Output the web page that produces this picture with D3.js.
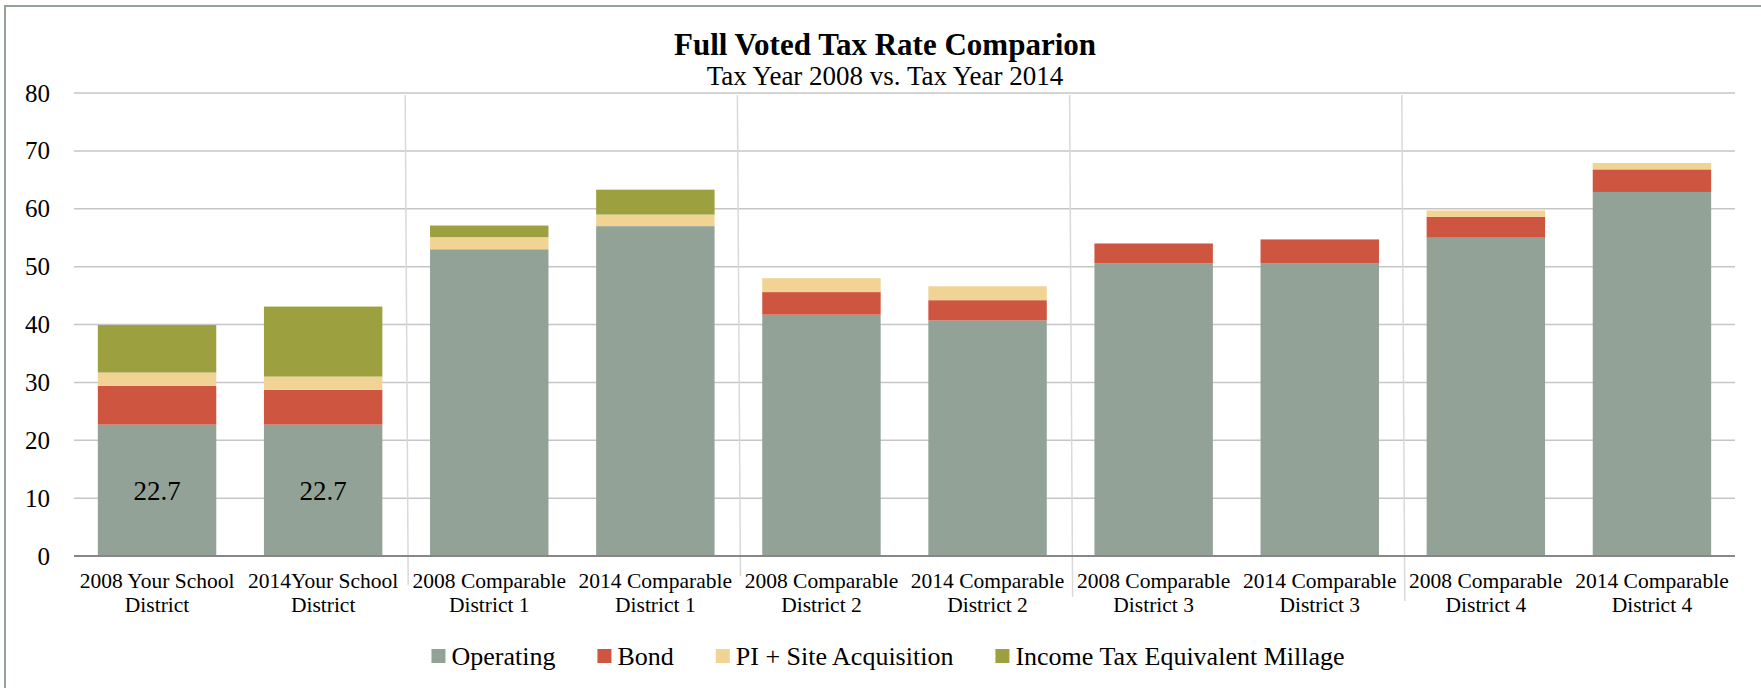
<!DOCTYPE html>
<html>
<head>
<meta charset="utf-8">
<script src="https://cdn.jsdelivr.net/npm/d3@7"></script>
<style>
  html, body { margin: 0; padding: 0; background: #ffffff; }
  svg { display: block; }
  text { font-family: "Liberation Serif", "DejaVu Serif", serif; fill: #000; }
</style>
</head>
<body>
<svg id="chart" width="1761" height="688"></svg>
<script>
// ---- data ----
const categories = [
  "2008 Your School District",
  "2014Your School District",
  "2008 Comparable District 1",
  "2014 Comparable District 1",
  "2008 Comparable District 2",
  "2014 Comparable District 2",
  "2008 Comparable District 3",
  "2014 Comparable District 3",
  "2008 Comparable District 4",
  "2014 Comparable District 4"
];
const seriesNames = ["Operating", "Bond", "PI + Site Acquisition", "Income Tax Equivalent Millage"];
const operating = [22.7, 22.7, 53.0, 57.0, 41.7, 40.7, 50.6, 50.6, 55.0, 62.9];
const bond      = [6.7, 6.0, 0, 0, 3.9, 3.5, 3.4, 4.1, 3.6, 3.9];
const piSite    = [2.3, 2.3, 2.1, 2.0, 2.4, 2.4, 0, 0, 1.1, 1.1];
const income    = [8.2, 12.1, 2.0, 4.3, 0, 0, 0, 0, 0, 0];
const yTicks = [0, 10, 20, 30, 40, 50, 60, 70, 80];
const dataLabels = [22.7, 22.7]; // shown on first two Operating segments
const dividerAfter = [1, 3, 5, 7]; // group separators after these category indices
const colors = ["#93a297", "#ce5540", "#f1d393", "#9da03f"];

// ---- layout ----
const svg = d3.select("#chart");
const W = 1761, H = 688;
const plot = { left: 74, right: 1735, top: 93, bottom: 556 };
const centerX = 885;

const table = categories.map((c, i) => ({
  cat: c,
  "Operating": operating[i],
  "Bond": bond[i],
  "PI + Site Acquisition": piSite[i],
  "Income Tax Equivalent Millage": income[i]
}));
const stacked = d3.stack().keys(seriesNames)(table);

const x = d3.scaleBand().domain(categories)
  .range([plot.left, plot.right]).paddingInner(0.287).paddingOuter(0.1435);
const y = d3.scaleLinear().domain([0, 80]).range([plot.bottom, plot.top]);
const color = d3.scaleOrdinal().domain(seriesNames).range(colors);

// border (left + top visible)
svg.append("path")
  .attr("d", `M5,${H} L5,6 L${W},6`)
  .attr("fill", "none").attr("stroke", "#93a297").attr("stroke-width", 2);

// title
svg.append("text").attr("x", centerX).attr("y", 55)
  .attr("text-anchor", "middle").attr("font-size", 31).attr("font-weight", "bold")
  .text("Full Voted Tax Rate Comparion");
svg.append("text").attr("x", centerX).attr("y", 85)
  .attr("text-anchor", "middle").attr("font-size", 27)
  .text("Tax Year 2008 vs. Tax Year 2014");

// gridlines
svg.append("g").selectAll("line").data(yTicks.filter(t => t > 0)).join("line")
  .attr("x1", plot.left).attr("x2", plot.right)
  .attr("y1", d => y(d)).attr("y2", d => y(d))
  .attr("stroke", "#c6c6c6").attr("stroke-width", 1.5);

// y axis labels
const yAxis = d3.axisLeft(y).tickValues(yTicks).tickSize(0).tickPadding(0);
const gy = svg.append("g").attr("transform", `translate(50,0)`).call(yAxis);
gy.select(".domain").remove();
gy.selectAll("text").attr("font-size", 25)
  .style("font-family", '"Liberation Serif", "DejaVu Serif", serif').attr("fill", "#000");

// group separator lines (drawn decoratively)
const step = x.step();
svg.append("g").selectAll("line").data(dividerAfter).join("line")
  .attr("x1", d => plot.left + (d + 1) * step - 1)
  .attr("x2", d => plot.left + (d + 1) * step + 2)
  .attr("y1", plot.top + 2)
  .attr("y2", (d, i) => plot.bottom + [29, 20, 41, 45][i])
  .attr("stroke", "#d9d9d9").attr("stroke-width", 1.5);

// bars
svg.append("g").selectAll("g").data(stacked).join("g")
  .attr("fill", d => color(d.key))
  .selectAll("rect").data(d => d).join("rect")
  .attr("x", d => x(d.data.cat))
  .attr("width", x.bandwidth())
  .attr("y", d => y(d[1]))
  .attr("height", d => Math.max(0, y(d[0]) - y(d[1])));

// axis line
svg.append("line")
  .attr("x1", plot.left).attr("x2", plot.right)
  .attr("y1", y(0)).attr("y2", y(0))
  .attr("stroke", "#878787").attr("stroke-width", 2);

// data labels
svg.append("g").selectAll("text").data(dataLabels).join("text")
  .attr("x", (d, i) => x(categories[i]) + x.bandwidth() / 2)
  .attr("y", (d, i) => y(operating[i] / 2))
  .attr("dy", "0.35em")
  .attr("text-anchor", "middle").attr("font-size", 27)
  .text(d => d.toFixed(1));

// x labels (two lines, split before "District")
const gx = svg.append("g");
categories.forEach(c => {
  const k = c.indexOf("District");
  const lines = [c.slice(0, k).trim(), c.slice(k)];
  const t = gx.append("text")
    .attr("text-anchor", "middle").attr("font-size", 21.5)
    .attr("x", x(c) + x.bandwidth() / 2).attr("y", 588);
  lines.forEach((ln, j) => {
    t.append("tspan").attr("x", x(c) + x.bandwidth() / 2)
      .attr("y", 588 + j * 24).text(ln);
  });
});

// legend
const lg = svg.append("g");
const sw = 14, gapSwText = 6, gapItems = 42, fontL = 26;
let cursor = 0;
const items = seriesNames.map(n => {
  const g = lg.append("g");
  g.append("rect").attr("width", sw).attr("height", sw).attr("y", -16).attr("fill", color(n));
  const t = g.append("text").attr("x", sw + gapSwText).attr("y", 0)
    .attr("font-size", fontL).text(n);
  const w = sw + gapSwText + t.node().getComputedTextLength();
  g.attr("transform", `translate(${cursor},0)`);
  cursor += w + gapItems;
  return g;
});
const totalW = cursor - gapItems;
lg.attr("transform", `translate(${888 - totalW / 2},665)`);
</script>
</body>
</html>
